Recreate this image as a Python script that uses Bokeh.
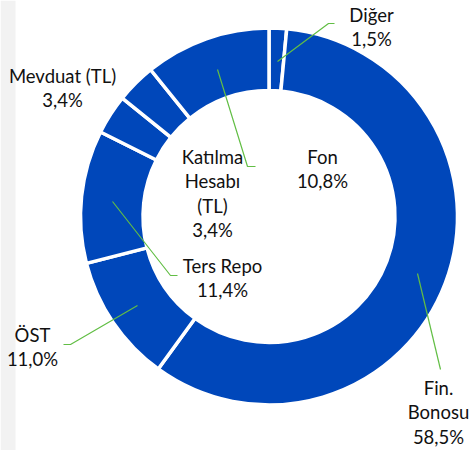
import math
from bokeh.plotting import figure
from bokeh.models import Range1d, ColumnDataSource
from bokeh.core.properties import value
from bokeh.embed import file_html
from bokeh.resources import INLINE

# ---- data ----
categories = ["Diğer", "Fin. Bonosu", "ÖST", "Ters Repo", "Mevduat (TL)", "Katılma Hesabı (TL)", "Fon"]
shares = [1.5, 58.5, 11.0, 11.4, 3.4, 3.4, 10.8]

# label text lines (name parts) per category
name_lines = {
    "Diğer": ["Diğer"],
    "Fin. Bonosu": ["Fin.", "Bonosu"],
    "ÖST": ["ÖST"],
    "Ters Repo": ["Ters Repo"],
    "Mevduat (TL)": ["Mevduat (TL)"],
    "Katılma Hesabı (TL)": ["Katılma", "Hesabı", "(TL)"],
    "Fon": ["Fon"],
}

# ---- layout (reference pixel coordinates, canvas top-left = 0,0) ----
W, H = 471, 450
def Y(py):
    return H - py

CX, CY = 268.5, 216.0
R_OUT, R_IN = 188.5, 126.0
BLUE = "#0047BA"
GREEN = "#62BE45"
FONT = "Lato"
FS = "18.5px"
LINE_GAP = 24.5

# label anchors (center x, first line y)
label_pos = {
    "Diğer": (371, 14),
    "Fin. Bonosu": (438, 387),
    "ÖST": (32, 334),
    "Ters Repo": (222, 265),
    "Mevduat (TL)": (62, 75),
    "Katılma Hesabı (TL)": (212, 156),
    "Fon": (322, 156),
}
# leader lines
leaders = {
    "Diğer": [(277, 61), (328, 23), (334, 23)],
    "Fin. Bonosu": [(417, 273), (440, 369)],
    "ÖST": [(137, 305), (70, 344), (63, 344)],
    "Ters Repo": [(112, 201), (170, 275), (177, 275)],
    "Katılma Hesabı (TL)": [(217, 69), (247, 166), (255, 166)],
}

p = figure(width=W, height=H, output_backend="svg", toolbar_location=None,
           x_range=Range1d(0, W), y_range=Range1d(0, H), min_border=0)
p.axis.visible = False
p.grid.visible = False
p.outline_line_color = None
p.background_fill_color = "white"
p.border_fill_color = "white"

# grey strip on the left
p.quad(left=[0], right=[15], bottom=[0], top=[H], fill_color="#F2F2F2", line_color=None)

# wedges: clockwise from 12 o'clock
total = sum(shares)
starts, ends = [], []
cum = 0.0
for s in shares:
    a = cum / total * 2 * math.pi
    b = (cum + s) / total * 2 * math.pi
    starts.append(math.pi / 2 - b)
    ends.append(math.pi / 2 - a)
    cum += s
src = ColumnDataSource(dict(start=starts, end=ends, cat=categories,
                            x=[CX] * len(shares), y=[Y(CY)] * len(shares)))
p.annular_wedge(x="x", y="y", inner_radius=R_IN, outer_radius=R_OUT,
                start_angle="start", end_angle="end", source=src,
                fill_color=BLUE, line_color="white", line_width=3.5)

# leader lines
for cat, pts in leaders.items():
    p.line([q[0] for q in pts], [Y(q[1]) for q in pts], line_color=GREEN, line_width=1.2)

# labels
tx, ty, tt = [], [], []
for cat, s in zip(categories, shares):
    lx, ly = label_pos[cat]
    lines = name_lines[cat] + [f"{s:.1f}".replace(".", ",") + "%"]
    for i, t in enumerate(lines):
        tx.append(lx)
        ty.append(Y(ly + i * LINE_GAP))
        tt.append(t)
p.text(x=tx, y=ty, text=tt, text_align="center", text_baseline="middle",
       text_font=value(FONT), text_font_size=FS, text_color="#111111")

open("out.html", "w").write(file_html(p, INLINE))
